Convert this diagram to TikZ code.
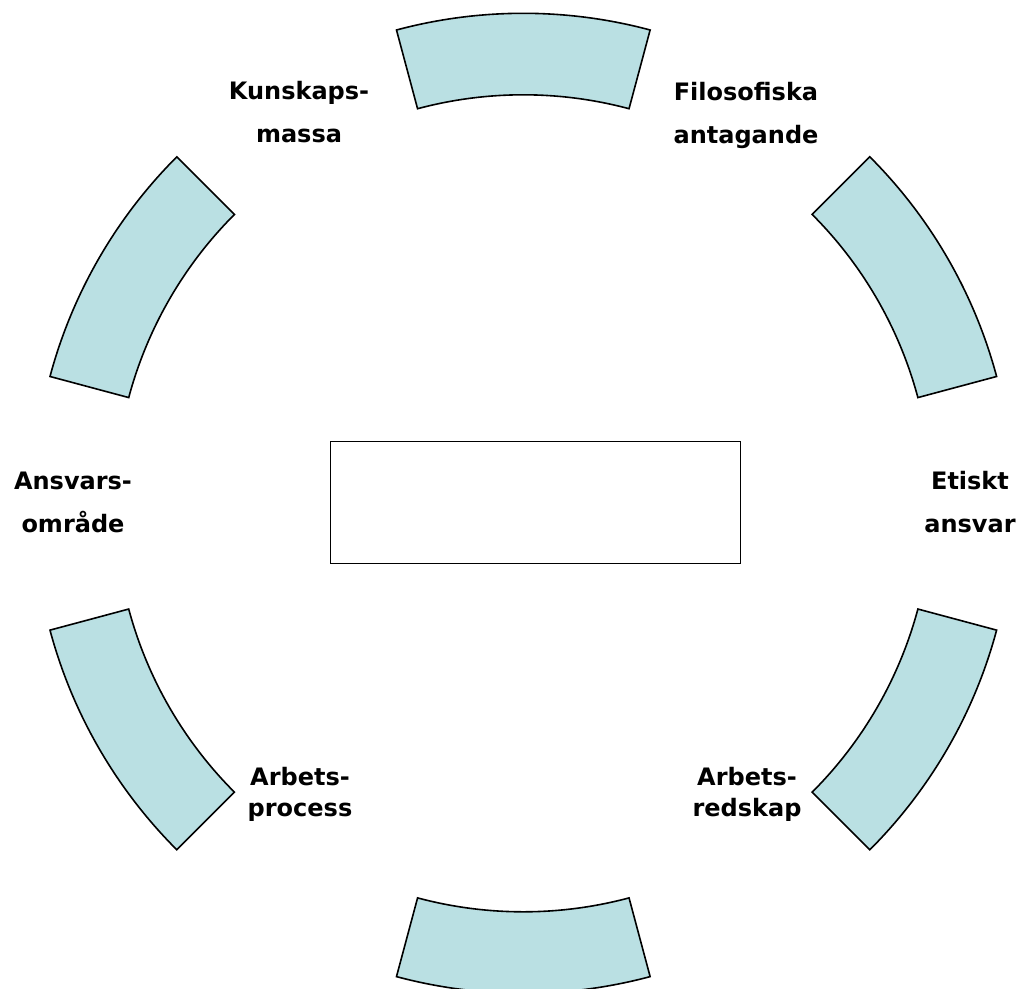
\documentclass[tikz,border=0pt]{standalone}
\usepackage{fontspec}
\setmainfont{DejaVu Sans}
\definecolor{segfill}{RGB}{186,224,227}
\begin{document}
\begin{tikzpicture}[x=1pt,y=-1pt,
  seg/.style={draw=black, line width=1.6pt, fill=segfill, line join=miter},
  lab/.style={font=\fontsize{24}{43}\selectfont\bfseries, align=center, anchor=base, inner sep=0pt},
  labtight/.style={lab, font=\fontsize{24}{31}\selectfont\bfseries},
  core/.style={draw=black, line width=1pt, minimum width=410pt, minimum height=122pt, inner sep=0pt}]
\useasboundingbox (0,0) rectangle (1019,988);
\foreach \t in {30,90,150,210,270,330} {
  \draw[seg, shift={(523.3,503.3)}]
    ({\t-15}:490) arc[start angle=\t-15, end angle=\t+15, radius=490]
    -- ({\t+15}:408.5) arc[start angle=\t+15, end angle=\t-15, radius=408.5]
    -- cycle;
}
\node[core] (center) at (535,502) {};
\node[lab] (kunskap) at (299,142) {Kunskaps-\\massa};
\node[lab] (filosofi) at (746,143) {Filosofiska\\antagande};
\node[lab] (ansvar) at (73,532) {Ansvars-\\område};
\node[lab] (etik) at (970,532) {Etiskt\\ansvar};
\node[labtight] (process) at (300,816) {Arbets-\\process};
\node[labtight] (redskap) at (747,816) {Arbets-\\redskap};
\end{tikzpicture}
\end{document}
